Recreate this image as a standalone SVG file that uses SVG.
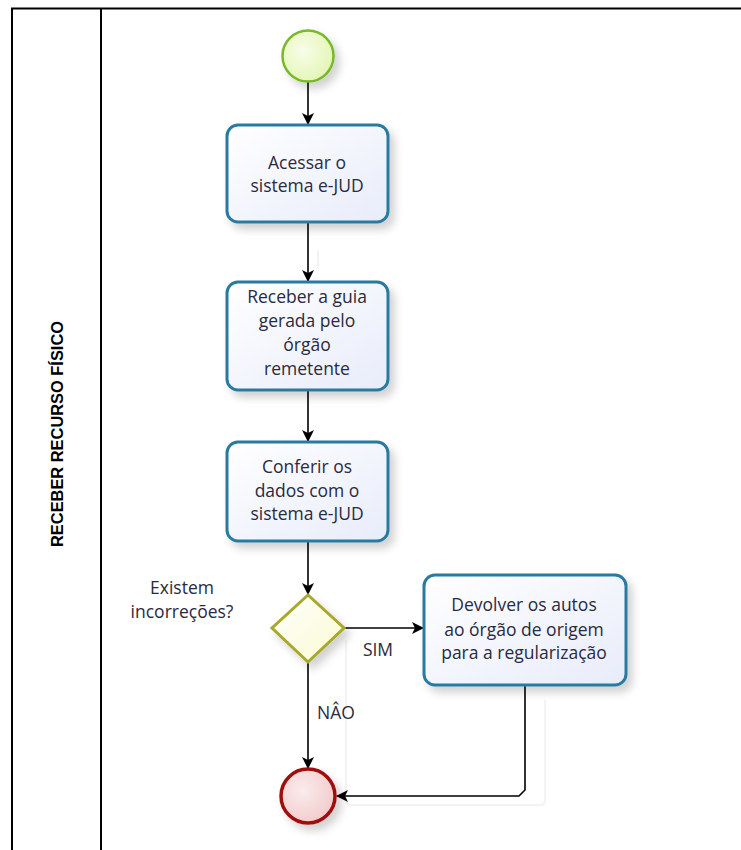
<svg xmlns="http://www.w3.org/2000/svg" width="741" height="850" viewBox="0 0 741 850">
<defs>
<style>
.frame{fill:none;stroke:#000;stroke-width:2}
.task{fill:url(#gTask);stroke:#2a7aa0;stroke-width:3}
.lbl{font-family:"Open Sans","Noto Sans",sans-serif;font-size:17.5px;fill:#2a2a40;text-anchor:middle}
.lane{font-family:"Liberation Sans",Arial,sans-serif;font-size:17px;font-weight:bold;fill:#000;text-anchor:middle}
.conn{fill:none;stroke:#000;stroke-width:1.6}
.ghost{fill:none;stroke:#f3f3f3;stroke-width:2}
</style>
<linearGradient id="gTask" x1="0" y1="0" x2="1" y2="1">
<stop offset="0" stop-color="#ffffff"/><stop offset="1" stop-color="#e8ecfa"/>
</linearGradient>
<radialGradient id="gStart" cx="0.4" cy="0.4" r="0.7">
<stop offset="0" stop-color="#f8fde8"/><stop offset="1" stop-color="#e2f5b0"/>
</radialGradient>
<radialGradient id="gEnd" cx="0.4" cy="0.4" r="0.7">
<stop offset="0" stop-color="#fbecec"/><stop offset="1" stop-color="#f2c8c8"/>
</radialGradient>
<linearGradient id="gGate" x1="0" y1="0" x2="1" y2="1">
<stop offset="0" stop-color="#ffffff"/><stop offset="1" stop-color="#fafad0"/>
</linearGradient>
<filter id="sh" x="-20%" y="-20%" width="150%" height="150%">
<feDropShadow dx="5" dy="6" stdDeviation="4" flood-color="#000" flood-opacity="0.18"/>
</filter>
<marker id="arr" viewBox="0 0 12 12" refX="11" refY="6" markerWidth="12" markerHeight="12" markerUnits="userSpaceOnUse" orient="auto">
<path d="M0,0 L12,6 L0,12 L3,6 Z" fill="#000"/>
</marker>
</defs>
<rect width="741" height="850" fill="#fff"/>
<g id="pool">
<path class="frame" d="M12,850 L12,8.5 L741,8.5"/>
<line class="frame" x1="101" y1="8.5" x2="101" y2="850"/>
<text class="lane" transform="translate(63,434) rotate(-90)" textLength="226" lengthAdjust="spacingAndGlyphs">RECEBER RECURSO FÍSICO</text>
</g>
<g id="ghosts">
<path class="ghost" d="M318,250 L318,268"/>
<path class="ghost" d="M346,640 L346,800 Q346,805 351,805 L540,805 Q545,805 545,800 L545,700"/>
</g>
<g id="connectors">
<line class="conn" x1="308" y1="82" x2="308" y2="124" marker-end="url(#arr)"/>
<line class="conn" x1="308" y1="222" x2="308" y2="281" marker-end="url(#arr)"/>
<line class="conn" x1="308" y1="390" x2="308" y2="441" marker-end="url(#arr)"/>
<line class="conn" x1="308" y1="541" x2="308" y2="594" marker-end="url(#arr)"/>
<line class="conn" x1="344" y1="628" x2="423" y2="628" marker-end="url(#arr)"/>
<line class="conn" x1="308" y1="662" x2="308" y2="768" marker-end="url(#arr)"/>
<path class="conn" d="M525,685 L525,790 L519,796 L337,796" marker-end="url(#arr)"/>
<text class="lbl" x="378" y="656">SIM</text>
<text class="lbl" x="336" y="719">NÂO</text>
</g>
<g id="start">
<circle cx="308" cy="56" r="25.5" fill="url(#gStart)" stroke="#78b82a" stroke-width="2.5" filter="url(#sh)"/>
</g>
<g id="task1">
<rect class="task" x="227" y="125" width="161" height="97" rx="11" filter="url(#sh)"/>
<text class="lbl" x="307" y="169">Acessar o</text>
<text class="lbl" x="307" y="192">sistema e-JUD</text>
</g>
<g id="task2">
<rect class="task" x="227" y="282" width="161" height="108" rx="11" filter="url(#sh)"/>
<text class="lbl" x="307" y="303">Receber a guia</text>
<text class="lbl" x="307" y="327">gerada pelo</text>
<text class="lbl" x="307" y="351">órgão</text>
<text class="lbl" x="307" y="375">remetente</text>
</g>
<g id="task3">
<rect class="task" x="227" y="442" width="161" height="99" rx="11" filter="url(#sh)"/>
<text class="lbl" x="307" y="473">Conferir os</text>
<text class="lbl" x="307" y="497">dados com o</text>
<text class="lbl" x="307" y="520">sistema e-JUD</text>
</g>
<g id="gateway">
<polygon points="308,595 344,628 308,662 272,628" fill="url(#gGate)" stroke="#a8a82a" stroke-width="3" filter="url(#sh)"/>
<text class="lbl" x="182" y="594">Existem</text>
<text class="lbl" x="182" y="618">incorreções?</text>
</g>
<g id="task4">
<rect class="task" x="424" y="575" width="202" height="110" rx="11" filter="url(#sh)"/>
<text class="lbl" x="524" y="611">Devolver os autos</text>
<text class="lbl" x="524" y="636">ao órgão de origem</text>
<text class="lbl" x="524" y="659">para a regularização</text>
</g>
<g id="end">
<circle cx="308" cy="796" r="27" fill="url(#gEnd)" stroke="#a01010" stroke-width="3.5" filter="url(#sh)"/>
</g>
</svg>
